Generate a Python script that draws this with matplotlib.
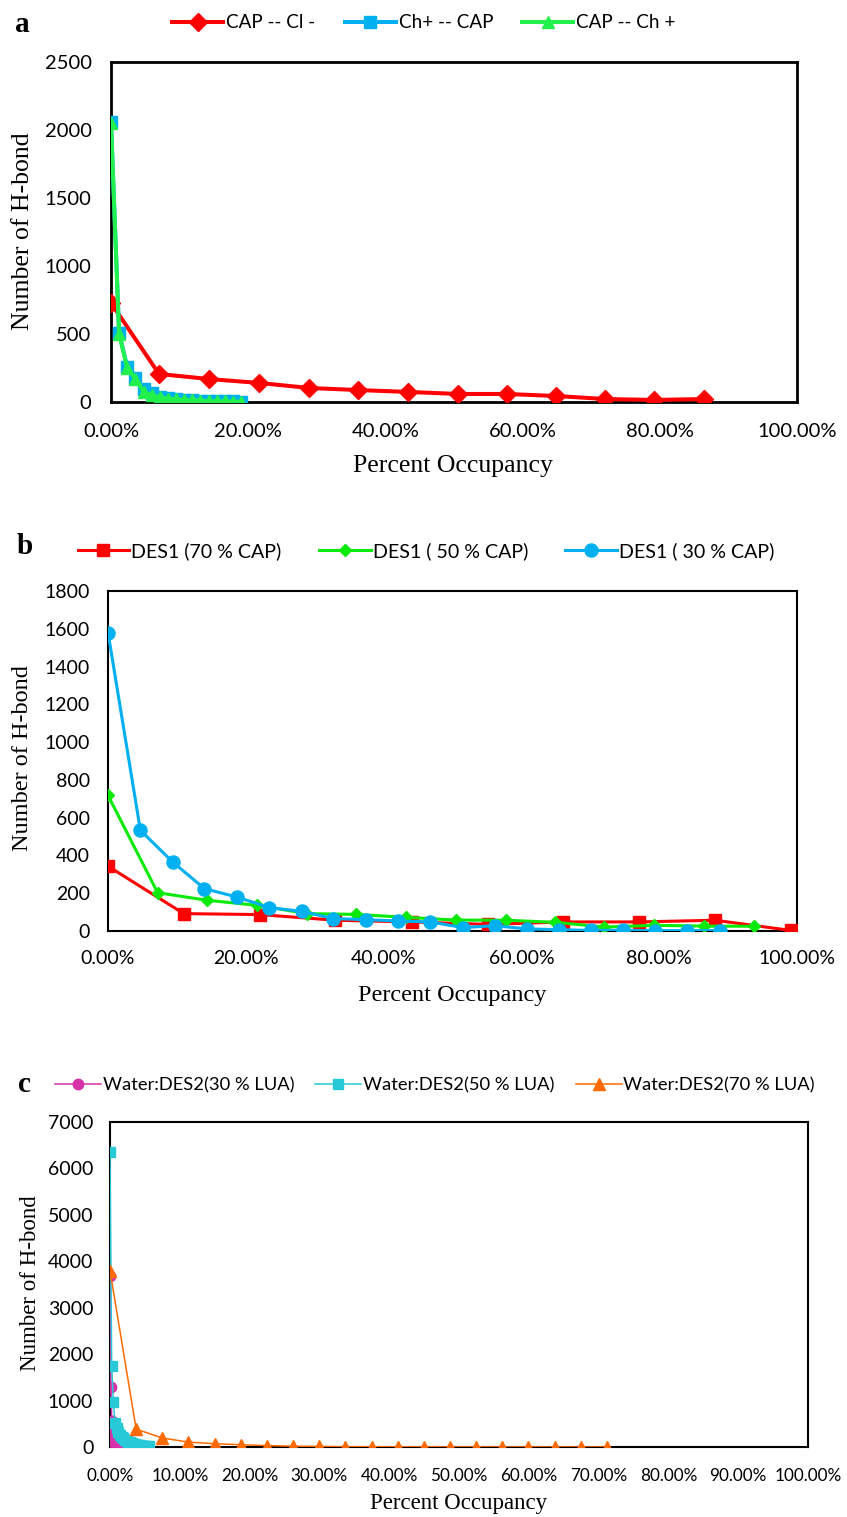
import matplotlib
matplotlib.use("Agg")
import matplotlib.pyplot as plt
from matplotlib.ticker import PercentFormatter, MultipleLocator

# ---- Panel a: H-bond occupancy distributions ----
a_cl_x = [0.0, 7.0, 14.3, 21.6, 28.9, 36.0, 43.3, 50.6, 57.7, 64.9, 72.0, 79.2, 86.4]
a_cl_y = [728, 206, 169, 140, 103, 88, 74, 59, 59, 44, 22, 15, 22]

a_ch_x = [0.0, 1.18, 2.37, 3.55, 4.74, 5.92, 7.11, 8.29, 9.48, 10.66,
          11.85, 13.03, 14.22, 15.40, 16.59, 17.77, 18.95]
a_ch_y = [2060, 507, 258, 180, 92, 64, 40, 30, 22, 17, 13, 10, 8, 6, 5, 4, 3]

a_cap_x = a_ch_x
a_cap_y = [2050, 500, 247, 172, 76, 50, 35, 25, 20, 15, 12, 9, 7, 5, 4, 3, 2]

# ---- Panel b: DES1 at three CAP fractions ----
b70_x = [0.0, 11.0, 22.0, 33.0, 44.1, 55.1, 66.1, 77.1, 88.1, 99.1]
b70_y = [343, 92, 87, 57, 48, 35, 48, 48, 57, 3]

b50_x = [0.0, 7.2, 14.3, 21.6, 28.9, 36.0, 43.3, 50.5, 57.7, 64.9, 72.0, 79.3, 86.5, 93.8]
b50_y = [718, 203, 163, 136, 92, 88, 72, 58, 57, 46, 21, 30, 26, 25]

b30_x = [0.0, 4.7, 9.4, 14.0, 18.7, 23.4, 28.1, 32.7, 37.4, 42.1,
         46.8, 51.5, 56.2, 60.8, 65.5, 70.1, 74.8, 79.4, 84.1, 88.8]
b30_y = [1580, 533, 365, 224, 180, 124, 104, 66, 60, 53,
         48, 18, 28, 11, 7, 3, 4, 2, 2, 2]

# ---- Panel c: water with DES2 at three LUA fractions ----
c30_x = [0.0, 0.13, 0.26, 0.39, 0.52, 0.65, 0.78, 0.91, 1.04, 1.17,
         1.30, 1.43, 1.56, 1.69, 1.82, 1.95, 2.08, 2.21, 2.34, 2.47]
c30_y = [3680, 1300, 560, 300, 180, 110, 70, 45, 30, 20,
         13, 9, 6, 4, 3, 2, 1, 1, 0, 0]

c50_x = [0.0, 0.24, 0.48, 0.72, 0.96, 1.20, 1.44, 1.68, 1.92, 2.16, 2.40, 2.64,
         2.88, 3.12, 3.36, 3.60, 3.84, 4.08, 4.32, 4.56, 4.80, 5.04, 5.28, 5.52]
c50_y = [6350, 1750, 980, 520, 420, 330, 260, 220, 185, 160, 135, 115,
         100, 85, 72, 62, 53, 45, 38, 32, 27, 23, 19, 16]

c70_x = [0.0, 3.75, 7.49, 11.24, 14.99, 18.73, 22.48, 26.23, 29.97, 33.72,
         37.47, 41.22, 44.96, 48.71, 52.46, 56.20, 59.95, 63.70, 67.44, 71.19]
c70_y = [3800, 385, 195, 105, 70, 50, 30, 18, 12, 8,
         6, 5, 4, 3, 3, 2, 2, 2, 1, 1]

SANS = ["Lato", "DejaVu Sans"]
SERIF = ["Liberation Serif", "DejaVu Serif"]

W, H = 847, 1517
fig = plt.figure(figsize=(W / 100, H / 100), dpi=100)


def box(l, t, r, b):
    return [l / W, 1 - b / H, (r - l) / W, (b - t) / H]


def style_axes(ax, spine_w, xsize, ysize, xpad, ypad):
    for s in ax.spines.values():
        s.set_linewidth(spine_w)
        s.set_color("black")
    ax.tick_params(axis="x", length=0, labelsize=xsize, pad=xpad)
    ax.tick_params(axis="y", length=0, labelsize=ysize, pad=ypad)
    for lab in ax.get_xticklabels() + ax.get_yticklabels():
        lab.set_family(SANS)
    ax.xaxis.set_major_formatter(PercentFormatter(xmax=100, decimals=2))


# ---------------- Panel a ----------------
axA = fig.add_axes(box(111, 62, 797, 402))
axA.plot(a_cl_x, a_cl_y, color="#FF0000", lw=2.9, marker="D", ms=9.2,
         label="CAP -- Cl -", zorder=3)
axA.plot(a_ch_x, a_ch_y, color="#00B0F0", lw=2.9, marker="s", ms=9.0,
         label="Ch+ -- CAP", zorder=4)
axA.plot(a_cap_x, a_cap_y, color="#22F04C", lw=2.9, marker="^", ms=9.0,
         label="CAP -- Ch +", zorder=5)
axA.set_xlim(0, 100)
axA.set_ylim(0, 2500)
axA.xaxis.set_major_locator(MultipleLocator(20))
axA.yaxis.set_major_locator(MultipleLocator(500))
style_axes(axA, 2.0, 14.5, 14.5, 15, 14)
fig.legend(*axA.get_legend_handles_labels(), loc="center",
           bbox_to_anchor=(424 / W, 1 - 23 / H), ncol=3, frameon=False,
           prop={"family": SANS, "size": 13.6}, handlelength=2.7,
           handletextpad=0.15, columnspacing=1.55, borderaxespad=0)
fig.text(23 / W, 1 - 231 / H, "Number of H-bond", rotation=90, ha="center",
         va="center", family=SERIF, size=18.5)
fig.text(453 / W, 1 - 466 / H, "Percent Occupancy", ha="center", va="center",
         family=SERIF, size=18.5)
fig.text(22 / W, 1 - 25 / H, "a", ha="center", va="center", family=SERIF,
         size=21, weight="bold")

# ---------------- Panel b ----------------
axB = fig.add_axes(box(108, 591, 797, 931))
axB.plot(b70_x, b70_y, color="#FF0000", lw=2.2, marker="s", ms=9.2,
         label="DES1 (70 % CAP)", zorder=3)
axB.plot(b50_x, b50_y, color="#0BEA0B", lw=2.2, marker="D", ms=5.8,
         label="DES1 ( 50 % CAP)", zorder=4)
axB.plot(b30_x, b30_y, color="#00B0F0", lw=2.2, marker="o", ms=9.4,
         label="DES1 ( 30 % CAP)", zorder=5)
axB.set_xlim(0, 100)
axB.set_ylim(0, 1800)
axB.xaxis.set_major_locator(MultipleLocator(20))
axB.yaxis.set_major_locator(MultipleLocator(200))
style_axes(axB, 1.5, 14, 14, 14, 13)
fig.legend(*axB.get_legend_handles_labels(), loc="center",
           bbox_to_anchor=(426 / W, 1 - 551 / H), ncol=3, frameon=False,
           prop={"family": SANS, "size": 14.1}, handlelength=2.65,
           handletextpad=0.1, columnspacing=1.9, borderaxespad=0)
fig.text(22 / W, 1 - 758 / H, "Number of H-bond", rotation=90, ha="center",
         va="center", family=SERIF, size=17.5)
fig.text(452 / W, 1 - 995 / H, "Percent Occupancy", ha="center", va="center",
         family=SERIF, size=17.5)
fig.text(25 / W, 1 - 546 / H, "b", ha="center", va="center", family=SERIF,
         size=21, weight="bold")

# ---------------- Panel c ----------------
axC = fig.add_axes(box(110, 1122, 808, 1447))
axC.plot(c30_x, c30_y, color="#D633A8", lw=1.1, marker="o", ms=7.5,
         label="Water:DES2(30 % LUA)", zorder=3)
axC.plot(c50_x, c50_y, color="#27C9D6", lw=1.1, marker="s", ms=7.8,
         label="Water:DES2(50 % LUA)", zorder=4)
axC.plot(c70_x, c70_y, color="#FF6A00", lw=1.1, marker="^", ms=8.5,
         label="Water:DES2(70 % LUA)", zorder=5)
axC.set_xlim(0, 100)
axC.set_ylim(0, 7000)
axC.xaxis.set_major_locator(MultipleLocator(10))
axC.yaxis.set_major_locator(MultipleLocator(1000))
style_axes(axC, 1.5, 12.3, 14, 15, 12)
fig.legend(*axC.get_legend_handles_labels(), loc="center",
           bbox_to_anchor=(435 / W, 1 - 1085 / H), ncol=3, frameon=False,
           prop={"family": SANS, "size": 13.2}, handlelength=2.5,
           handletextpad=0.1, columnspacing=1.15, borderaxespad=0)
fig.text(30 / W, 1 - 1283 / H, "Number of H-bond", rotation=90, ha="center",
         va="center", family=SERIF, size=16.5)
fig.text(459 / W, 1 - 1504 / H, "Percent Occupancy", ha="center", va="center",
         family=SERIF, size=16.5)
fig.text(24 / W, 1 - 1085 / H, "c", ha="center", va="center", family=SERIF,
         size=21, weight="bold")

fig.savefig("out.png", dpi=100, facecolor="white")
